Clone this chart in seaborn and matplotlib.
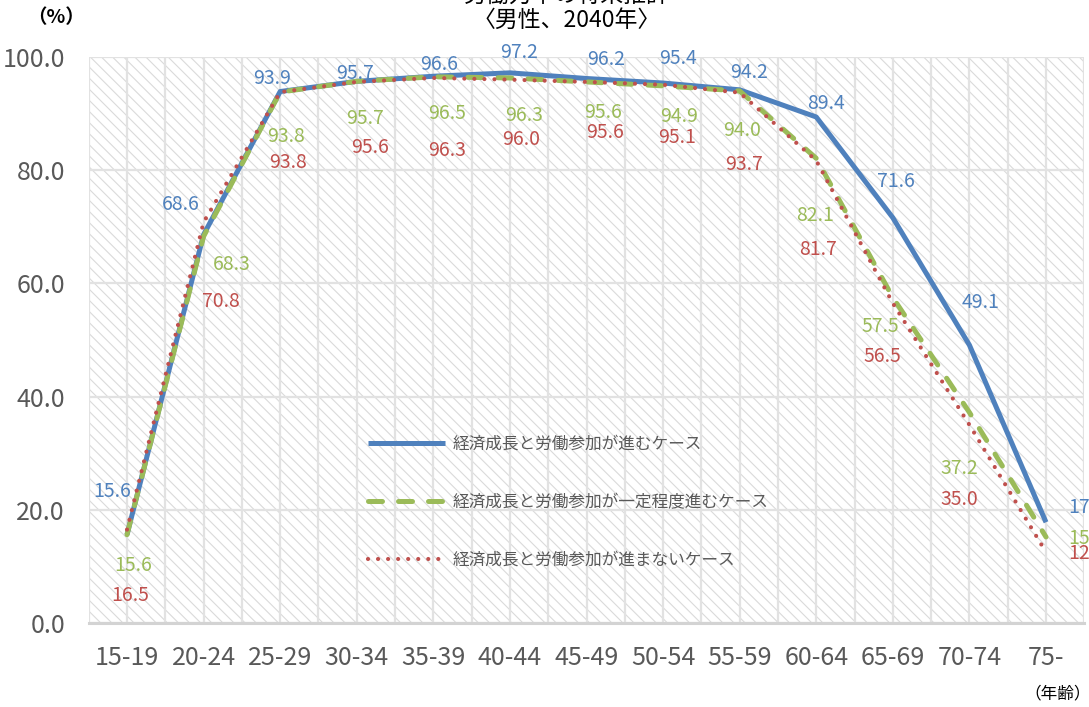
import matplotlib
matplotlib.use("Agg")
import matplotlib.pyplot as plt
from matplotlib.patches import Rectangle
from matplotlib.ticker import FixedLocator, FuncFormatter
import pandas as pd
import seaborn as sns

# 年齢階級
age_groups = ["15-19", "20-24", "25-29", "30-34", "35-39", "40-44", "45-49",
              "50-54", "55-59", "60-64", "65-69", "70-74", "75-"]

# 労働力率（%）
case_high = [15.6, 68.6, 93.9, 95.7, 96.6, 97.2, 96.2, 95.4, 94.2, 89.4, 71.6, 49.1, 17.8]
case_mid = [15.6, 68.3, 93.8, 95.7, 96.5, 96.3, 95.6, 94.9, 94.0, 82.1, 57.5, 37.2, 15.2]
case_low = [16.5, 70.8, 93.8, 95.6, 96.3, 96.0, 95.6, 95.1, 93.7, 81.7, 56.5, 35.0, 12.5]

case_names = ["経済成長と労働参加が進むケース",
              "経済成長と労働参加が一定程度進むケース",
              "経済成長と労働参加が進まないケース"]

y_ticks = [0, 20, 40, 60, 80, 100]

title_line1 = "労働力率の将来推計"
title_line2 = "〈男性、2040年〉"

# 描画スタイル
colors = ["#4F81BD", "#9BBB59", "#C0504D"]
line_widths = [3.6, 3.6, 3.0]
dash_styles = {case_names[0]: "", case_names[1]: (2.8, 3.2), case_names[2]: (0.01, 2.4)}

# データラベルの位置（点からのずれ, px; 下向き正）
label_offsets = [
    [(-15, -43), (-23, -30), (-8, -13), (-2, -8), (6, -12), (9, -20), (20, -19),
     (15, -25), (9, -17), (10, -13), (3, -36), (11, -43), (41, -15)],
    [(6, 31), (28, 28), (6, 44), (8, 37), (14, 37), (14, 38), (17, 31),
     (16, 31), (2, 40), (-1, 57), (-13, 29), (-10, 56), (41, 2)],
    [(3, 66), (17, 79), (8, 70), (13, 66), (14, 73), (11, 60), (19, 51),
     (14, 53), (4, 72), (2, 89), (-10, 53), (-10, 75), (41, 1)],
]

sns.set_theme(style="white")
plt.rcParams["font.family"] = ["Noto Sans CJK JP", "DejaVu Sans"]
plt.rcParams["hatch.linewidth"] = 0.8

df = pd.DataFrame({
    "年齢": age_groups * 3,
    "労働力率": case_high + case_mid + case_low,
    "ケース": [case_names[0]] * len(age_groups)
              + [case_names[1]] * len(age_groups)
              + [case_names[2]] * len(age_groups),
})

fig = plt.figure(figsize=(10.89, 7.07), dpi=100)
ax = fig.add_axes([88.7 / 1089, 84 / 707, 995.6 / 1089, 566 / 707])

# 斜線の背景
ax.add_patch(Rectangle((0, 0), 1, 1, transform=ax.transAxes, facecolor="white",
                       edgecolor="#dadada", hatch="\\\\\\", lw=0, zorder=0.1))

sns.lineplot(data=df, x="年齢", y="労働力率", hue="ケース", style="ケース",
             palette=colors, dashes=dash_styles, sort=False, legend=False,
             ax=ax, zorder=3)

lines = ax.get_lines()[:3]
for ln, lw in zip(lines, line_widths):
    ln.set_linewidth(lw)
    ln.set_dash_capstyle("round")
    ln.set_solid_capstyle("butt")
    ln.set_solid_joinstyle("round")

ax.set_xlim(-0.5, len(age_groups) - 0.5)
ax.set_ylim(0, 100)
ax.yaxis.set_major_locator(FixedLocator(y_ticks))
ax.yaxis.set_major_formatter(FuncFormatter(lambda v, p: f"{v:.1f}"))
ax.xaxis.set_minor_locator(FixedLocator([i - 0.5 for i in range(len(age_groups) + 1)]))

ax.set_axisbelow(True)
ax.grid(True, which="both", color="#e2e2e2", lw=1.6)
ax.tick_params(axis="both", which="both", length=0)
ax.tick_params(axis="y", labelsize=18, labelcolor="#595959", pad=17)
ax.tick_params(axis="x", labelsize=18, labelcolor="#595959", pad=16)
ax.set_xlabel("")
ax.set_ylabel("")
for side in ["top", "right", "left"]:
    ax.spines[side].set_visible(False)
ax.spines["bottom"].set_color("#d3d3d3")
ax.spines["bottom"].set_linewidth(2.2)

# データラベル
for values, offsets, color in zip([case_high, case_mid, case_low], label_offsets, colors):
    for i, (v, (dx, dy)) in enumerate(zip(values, offsets)):
        ax.annotate(f"{v:.1f}", (i, v), xytext=(dx * 0.72, -dy * 0.72),
                    textcoords="offset points", ha="center", va="center",
                    fontsize=14, color=color, annotation_clip=False, zorder=5)

leg = ax.legend(lines, case_names, loc="upper left",
                bbox_to_anchor=((368 - 88.7) / 995.6, (623 - 436) / 566),
                frameon=False, fontsize=12, handlelength=4.6, handletextpad=0.45,
                labelspacing=2.45, borderpad=0, borderaxespad=0)
for t in leg.get_texts():
    t.set_color("#595959")

fig.text(567 / 1089, 1 + 5 / 707, title_line1, ha="center", va="center",
         fontsize=16.5, color="black")
fig.text(567 / 1089, 1 - 20 / 707, title_line2, ha="center", va="center",
         fontsize=16.5, color="black")
fig.text(56 / 1089, 1 - 18 / 707, "（%）", ha="center", va="center",
         fontsize=14, fontweight="bold", color="black")
fig.text(1058 / 1089, 13 / 707, "（年齢）", ha="center", va="center",
         fontsize=12, color="black")

fig.savefig("out.png", dpi=100)
